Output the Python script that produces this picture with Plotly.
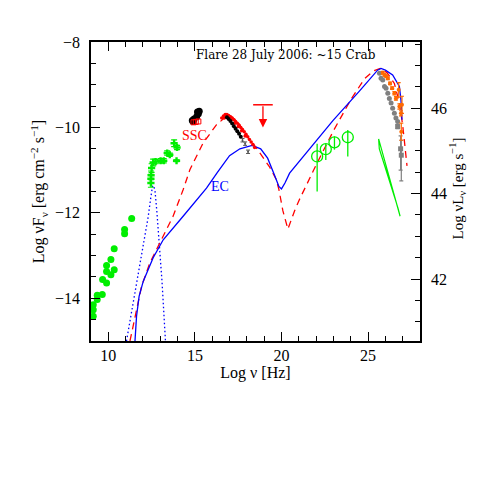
import plotly.graph_objects as go

# offset between the two vertical scales: log nuL_nu = log nuF_nu + LUM_OFFSET
LUM_OFFSET = 55.55

# radio (green filled circles)
radio_x = [9.13, 9.13, 9.13, 9.36, 9.36, 9.65, 9.67, 9.9, 9.9, 9.9, 10.15, 10.15, 10.34, 10.34, 10.94, 10.94, 11.35]
radio_y = [-14.15, -14.27, -14.42, -14.03, -13.93, -13.91, -13.56, -13.64, -13.37, -13.23, -13.45, -13.09, -13.33, -12.84, -12.39, -12.49, -12.13]

# infrared (green crosses with error bars)
ir_x = [12.46, 12.46, 12.47, 12.5, 12.59, 12.73, 13.02, 13.2, 13.4, 13.55, 13.8, 13.97, 13.94]
ir_y = [-11.3, -11.2, -11.12, -10.95, -10.82, -10.8, -10.78, -10.78, -10.6, -10.64, -10.37, -10.47, -10.78]
ir_err = [0.1, 0.1, 0.1, 0.1, 0.08, 0.05, 0.05, 0.05, 0.05, 0.04, 0.08, 0.05, 0.02]

# optical (black dots) and red open squares
opt_x = [14.85, 14.95, 15.1, 15.2, 15.25, 15.15, 14.9]
opt_y = [-9.84, -9.8, -9.75, -9.68, -9.62, -9.64, -9.86]
sq_x = [14.92, 15.05, 15.2]
sq_y = [-9.88, -9.87, -9.86]

# X-ray
xr_red_x = [16.55, 16.65, 16.75, 16.85, 16.95, 17.05, 17.15, 17.25, 17.35, 17.45, 17.55, 17.65, 17.75,
            17.85, 17.95, 18.05, 18.15, 18.25, 18.35, 18.45, 16.7, 16.9, 17.1, 17.3, 17.5, 17.7, 17.9]
xr_red_y = [-9.78, -9.73, -9.7, -9.7, -9.72, -9.75, -9.78, -9.82, -9.86, -9.9, -9.95, -10.0, -10.05,
            -10.1, -10.16, -10.22, -10.28, -10.34, -10.4, -10.47, -9.78, -9.78, -9.82, -9.9, -9.98, -10.08, -10.2]
xr_blk_x = [16.85, 16.95, 17.05, 17.15, 17.25, 17.35, 17.45, 17.55, 17.65]
xr_blk_y = [-9.76, -9.8, -9.85, -9.91, -9.97, -10.03, -10.09, -10.15, -10.22]
xr_gry_x = [17.75, 17.9, 18.07]
xr_gry_y = [-10.3, -10.38, -10.57]

# upper limit
ul_x = [18.93]
ul_y = [-9.47]
ul_tip = [-10.0]

# gamma-ray (green open circles)
gam_x = [22.06, 22.56, 23.06, 23.83]
gam_y = [-10.68, -10.51, -10.35, -10.23]
gam_up = [0.3, 0.13, 0.14, 0.17]
gam_dn = [0.82, 0.25, 0.17, 0.45]

# bow-tie
bow_x = [25.61, 26.85, 26.73, 25.65, 25.61]
bow_y = [-10.27, -12.08, -11.89, -10.5, -10.27]

# TeV
tev_g_x = [25.66, 25.75, 25.85, 25.95, 26.04, 26.14, 26.23, 26.33, 26.42, 26.52, 26.61, 26.71]
tev_g_y = [-8.73, -8.85, -8.89, -9.04, -9.08, -9.2, -9.32, -9.43, -9.55, -9.67, -9.78, -9.86]
tev_ge_x = [26.71, 26.88, 26.92]
tev_ge_y = [-9.98, -10.5, -10.65]
tev_ge_up = [0.05, 0.3, 0.35]
tev_ge_dn = [0.05, 0.5, 0.6]
tev_o_x = [25.85, 25.95, 26.05, 26.14, 26.27, 26.39, 26.52, 26.61, 26.77, 26.81, 26.9, 26.96, 26.92]
tev_o_y = [-8.72, -8.77, -8.8, -8.85, -8.97, -9.08, -9.2, -9.32, -9.12, -9.51, -9.67, -9.47, -10.1]
tev_o_err = [0.03, 0.03, 0.03, 0.03, 0.03, 0.03, 0.04, 0.04, 0.17, 0.06, 0.06, 0.2, 0.2]

# models
ssc_x = [11.25, 11.59, 11.92, 12.4, 12.98, 13.74, 14.32, 14.71, 15.47, 16.24, 16.82, 17.0, 17.5, 17.97,
         18.55, 19.0, 19.32, 19.7, 19.85, 20.08, 20.37, 20.76, 21.0, 22.0, 23.0, 24.0, 24.8, 25.3, 25.7,
         26.1, 26.52, 26.81, 27.0, 27.12, 27.25]
ssc_y = [-15.0, -14.34, -13.72, -13.17, -12.7, -12.08, -11.46, -10.99, -10.37, -9.94, -9.74, -9.71, -9.88,
         -10.18, -10.48, -10.75, -10.93, -11.22, -11.45, -11.95, -12.38, -11.95, -11.72, -10.88, -10.08,
         -9.35, -8.86, -8.68, -8.62, -8.72, -8.97, -9.43, -9.95, -10.4, -10.9]
ec_x = [11.54, 11.63, 11.78, 12.02, 12.59, 13.17, 14.32, 15.09, 15.67, 16.3, 17.0, 17.6, 18.3, 18.8, 19.2,
        19.6, 19.85, 20.0, 20.2, 20.47, 21.43, 22.97, 24.5, 25.27, 25.55, 25.75, 26.0, 26.42, 26.81, 26.9, 26.96]
ec_y = [-15.0, -14.42, -13.95, -13.6, -13.05, -12.63, -12.08, -11.69, -11.42, -11.05, -10.66, -10.5, -10.42,
        -10.5, -10.72, -11.12, -11.38, -11.44, -11.3, -11.07, -10.6, -9.84, -9.15, -8.8, -8.66, -8.62, -8.66,
        -8.77, -9.04, -9.36, -9.82]
dust_x = [11.05, 11.4, 11.75, 12.05, 12.3, 12.45, 12.55, 12.62, 12.7, 12.8, 12.95, 13.1, 13.2, 13.3]
dust_y = [-15.0, -14.2, -13.4, -12.7, -12.1, -11.65, -11.38, -11.36, -11.5, -11.95, -12.7, -13.6, -14.3, -15.0]

GREEN = "#00ee00"
RED = "#ff0000"
BLUE = "#0000ff"
ORANGE = "#ff6a00"
GREY = "#808080"

fig = go.Figure()

# model curves
fig.add_trace(go.Scatter(x=dust_x, y=dust_y, mode="lines",
                         line=dict(color=BLUE, width=1.3, dash="1.5px,2.5px")))
fig.add_trace(go.Scatter(x=ssc_x, y=ssc_y, mode="lines",
                         line=dict(color=RED, width=1.3, dash="7px,5px")))
fig.add_trace(go.Scatter(x=ec_x, y=ec_y, mode="lines",
                         line=dict(color=BLUE, width=1.3)))

# data
fig.add_trace(go.Scatter(x=radio_x, y=radio_y, mode="markers",
                         marker=dict(color=GREEN, size=7)))
fig.add_trace(go.Scatter(x=ir_x, y=ir_y, mode="markers",
                         marker=dict(color=GREEN, size=6, symbol="cross"),
                         error_y=dict(type="data", array=ir_err, color=GREEN, width=3, thickness=1.2)))
fig.add_trace(go.Scatter(x=opt_x, y=opt_y, mode="markers",
                         marker=dict(color="black", size=7)))
fig.add_trace(go.Scatter(x=sq_x, y=sq_y, mode="markers",
                         marker=dict(color=RED, size=5, symbol="square-open", line=dict(width=1))))
fig.add_trace(go.Scatter(x=xr_red_x, y=xr_red_y, mode="markers",
                         marker=dict(color=RED, size=3.5)))
fig.add_trace(go.Scatter(x=xr_blk_x, y=xr_blk_y, mode="markers",
                         marker=dict(color="black", size=4)))
fig.add_trace(go.Scatter(x=xr_gry_x, y=xr_gry_y, mode="markers",
                         marker=dict(color="#555555", size=2),
                         error_y=dict(type="data", array=[0.04] * len(xr_gry_x), color="#555555",
                                      width=2, thickness=1)))
# upper limit bar + arrow
fig.add_trace(go.Scatter(x=ul_x, y=ul_y, mode="markers",
                         marker=dict(color=RED, size=14, symbol="line-ew",
                                     line=dict(color=RED, width=1.5))))
fig.add_annotation(x=ul_x[0], y=ul_tip[0], ax=ul_x[0], ay=ul_y[0], xref="x", yref="y",
                   axref="x", ayref="y", text="", showarrow=True, arrowhead=2,
                   arrowsize=1.3, arrowwidth=1.3, arrowcolor=RED)

fig.add_trace(go.Scatter(x=gam_x, y=gam_y, mode="markers",
                         marker=dict(color=GREEN, size=11, symbol="circle-open",
                                     line=dict(color=GREEN, width=1.3)),
                         error_y=dict(type="data", symmetric=False, array=gam_up, arrayminus=gam_dn,
                                      color=GREEN, width=0, thickness=1.3)))
fig.add_trace(go.Scatter(x=bow_x, y=bow_y, mode="lines",
                         line=dict(color=GREEN, width=1.2)))

fig.add_trace(go.Scatter(x=tev_g_x, y=tev_g_y, mode="markers",
                         marker=dict(color=GREY, size=5)))
fig.add_trace(go.Scatter(x=tev_ge_x, y=tev_ge_y, mode="markers",
                         marker=dict(color=GREY, size=5, symbol="square"),
                         error_y=dict(type="data", symmetric=False, array=tev_ge_up, arrayminus=tev_ge_dn,
                                      color=GREY, width=2, thickness=1.2)))
fig.add_trace(go.Scatter(x=tev_o_x, y=tev_o_y, mode="markers",
                         marker=dict(color=ORANGE, size=4),
                         error_y=dict(type="data", array=tev_o_err, color=ORANGE, width=2, thickness=1.2)))

# empty trace so the luminosity axis on the right is drawn
fig.add_trace(go.Scatter(x=[], y=[], yaxis="y2", hoverinfo="skip"))

# labels
fig.add_annotation(x=14.97, y=-10.2, text="SSC", showarrow=False,
                   font=dict(color=RED, size=14))
fig.add_annotation(x=16.47, y=-11.39, text="EC", showarrow=False,
                   font=dict(color=BLUE, size=14))
fig.add_annotation(x=20.24, y=-8.3, text="Flare 28 July 2006: ~15 Crab", showarrow=False,
                   font=dict(family="DejaVu Serif", size=12, color="black"))

# right axis title
fig.add_annotation(x=1.0, y=0.51, xref="paper", yref="paper", xanchor="center",
                   xshift=37, text="Log νL<sub>ν</sub> [erg s<sup>−1</sup>]", textangle=-90,
                   showarrow=False, font=dict(size=15))

axis_style = dict(showline=True, linecolor="black", linewidth=1.5, ticks="inside",
                  tickcolor="black", tickwidth=1.2, ticklen=9, showgrid=False, zeroline=False,
                  tickfont=dict(size=16))

fig.update_layout(
    width=491, height=491,
    margin=dict(l=83, r=79, t=34, b=158),
    paper_bgcolor="white", plot_bgcolor="white",
    showlegend=False,
    font=dict(family="Liberation Serif", color="black", size=16),
    xaxis=dict(range=[9, 28], dtick=5, tick0=0, mirror="ticks", ticklabelstandoff=-1,
               minor=dict(ticks="inside", dtick=1, ticklen=5, tickcolor="black", tickwidth=1.2),
               title=dict(text="Log ν [Hz]", standoff=4, font=dict(size=16)),
               **axis_style),
    yaxis=dict(range=[-15, -8], dtick=2, tick0=0, ticklabelstandoff=6,
               minor=dict(ticks="inside", dtick=0.5, ticklen=5, tickcolor="black", tickwidth=1.2),
               title=dict(text="Log νF<sub>ν</sub> [erg cm<sup>−2</sup> s<sup>−1</sup>]",
                          standoff=6, font=dict(size=16)),
               **axis_style),
    yaxis2=dict(range=[-15 + LUM_OFFSET, -8 + LUM_OFFSET], dtick=2, tick0=0,
                overlaying="y", side="right", anchor="x", ticklabelstandoff=6,
                minor=dict(ticks="inside", dtick=0.5, ticklen=5, tickcolor="black", tickwidth=1.2),
                **axis_style),
)

fig.write_html("out.html")
